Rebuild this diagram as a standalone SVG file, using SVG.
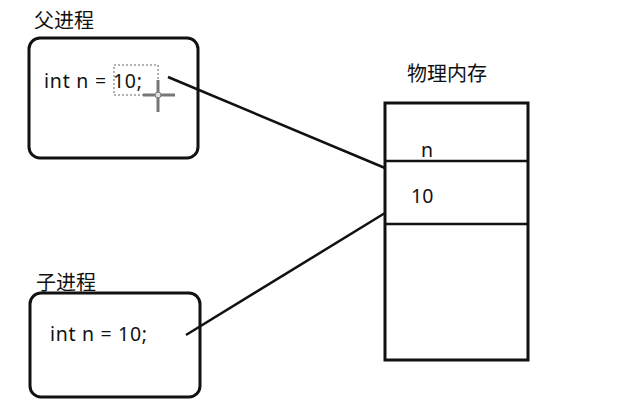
<svg xmlns="http://www.w3.org/2000/svg" width="633" height="404" viewBox="0 0 633 404">
<style>
.t{font-family:"Noto Sans","Noto Sans CJK SC",sans-serif;font-size:19.5px;fill:#111}
.c{font-family:"Noto Sans CJK SC","Noto Sans",sans-serif;font-size:20px;fill:#111}
.box{fill:#fff;stroke:#111;stroke-width:3}
.ln{stroke:#111;stroke-width:2.5;fill:none}
</style>
<rect width="633" height="404" fill="#fff"/>
<g id="parent">
<text class="c" x="34" y="28">父进程</text>
<rect class="box" x="29" y="38" width="169" height="120" rx="11"/>
<text class="t" x="44" y="88" textLength="98" lengthAdjust="spacing">int n = 10;</text>
<rect x="114" y="65" width="44" height="30" fill="none" stroke="#666" stroke-width="1" stroke-dasharray="2,2"/>
<g stroke="#777" stroke-width="3">
<line x1="143" y1="95" x2="175" y2="95"/>
<line x1="158" y1="80" x2="158" y2="112"/>
</g>
<circle cx="158" cy="95" r="3" fill="#ddd" stroke="#777" stroke-width="1"/>
</g>
<g id="child">
<text class="c" x="36" y="290">子进程</text>
<rect class="box" x="30" y="293" width="170" height="104" rx="11"/>
<text class="t" x="50" y="341" textLength="97" lengthAdjust="spacing">int n = 10;</text>
</g>
<g id="memory">
<text class="c" x="407" y="81">物理内存</text>
<rect class="box" x="385" y="103" width="143" height="257"/>
<line class="ln" x1="385" y1="161" x2="528" y2="161" stroke-width="3"/>
<line class="ln" x1="385" y1="224" x2="528" y2="224" stroke-width="3"/>
<text class="t" x="421" y="157">n</text>
<text class="t" x="411" y="203">10</text>
</g>
<g id="connectors">
<line class="ln" x1="168" y1="77" x2="385" y2="168"/>
<line class="ln" x1="186" y1="335" x2="385" y2="213"/>
</g>
</svg>
